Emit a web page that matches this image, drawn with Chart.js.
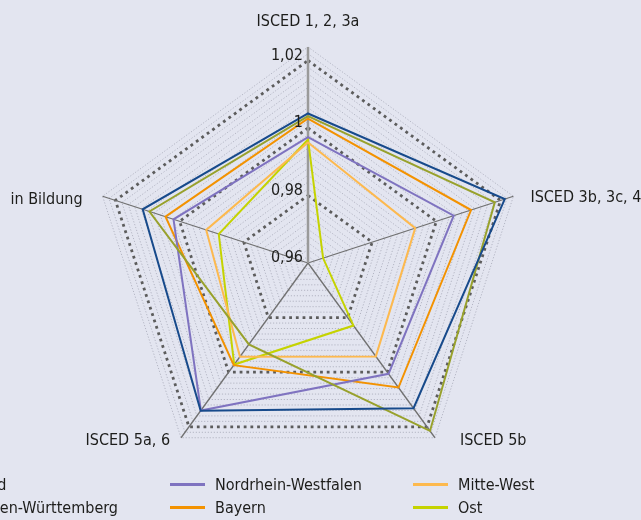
<!DOCTYPE html>
<html lang="de">
<head>
<meta charset="utf-8">
<script src="https://cdn.jsdelivr.net/npm/chart.js@4.4.1/dist/chart.umd.min.js"></script>
<style>
  html, body { margin: 0; padding: 0; background: #e3e5f0; }
  #wrap { position: relative; width: 641px; height: 520px; overflow: hidden; background: #e3e5f0; }
  #chart { position: absolute; left: 0; top: 0; }
  #legend {
    position: absolute; left: -73px; top: 473px;
    display: grid; grid-auto-flow: column;
    grid-template-columns: 243px 243px 243px; grid-template-rows: 23px 23px;
    font: 16px "DejaVu Sans Condensed", "DejaVu Sans", sans-serif; color: #1d1d1b;
  }
  .item { display: flex; align-items: center; white-space: nowrap; }
  .swatch { width: 35px; height: 3px; margin-right: 10px; }
</style>
</head>
<body>
<div id="wrap">
  <canvas id="chart" width="641" height="520"></canvas>
  <div id="legend"></div>
</div>
<script>
const categories = ["ISCED 1, 2, 3a", "ISCED 3b, 3c, 4", "ISCED 5b", "ISCED 5a, 6", "in Bildung"];

const nord = [1.0043, 1.0213, 1.0132, 1.0141, 1.0115];
const badenWuerttemberg = [1.0035, 1.0182, 1.0215, 0.9898, 1.0094];
const nordrheinWestfalen = [0.9973, 1.0054, 1.0006, 1.014, 1.0019];
const bayern = [1.0028, 1.0108, 1.0056, 0.9974, 1.0044];
const mitteWest = [0.9957, 0.9934, 0.9942, 0.9943, 0.9917];
const ost = [0.9966, 0.9647, 0.9829, 0.9972, 0.9878];

const majorTicks = [0.96, 0.98, 1, 1.02];
const tickLabels = ["0,96", "0,98", "1", "1,02"];

const FONT = '16px "DejaVu Sans Condensed", "DejaVu Sans", sans-serif';

function isMajor(v) {
  return majorTicks.some((m) => Math.abs(m - v) < 1e-6);
}

// align, dx, dy relative to the end of each axis
const labelPlace = [
  ["center", 0, -25],
  ["left", 17, 2],
  ["left", 25, 3],
  ["right", -11, 3],
  ["right", -20, 4],
];

const labelPlugin = {
  id: "radarLabels",
  afterDraw(chart) {
    const s = chart.scales.r;
    const ctx = chart.ctx;
    ctx.save();
    ctx.font = FONT;
    ctx.fillStyle = "#1d1d1b";
    ctx.textBaseline = "middle";
    ctx.textAlign = "right";
    majorTicks.forEach((v, i) => {
      const r = s.getDistanceFromCenterForValue(v);
      ctx.fillText(tickLabels[i], s.xCenter - 5, s.yCenter - r - 5);
    });
    categories.forEach((c, i) => {
      const p = s.getPointPosition(i, s.drawingArea);
      const [align, dx, dy] = labelPlace[i];
      ctx.textAlign = align;
      ctx.fillText(c, p.x + dx, p.y + dy);
    });
    ctx.restore();
  },
};

function series(label, data, color) {
  return { label: label, data: data, borderColor: color, backgroundColor: color, borderWidth: 2, pointRadius: 0, fill: false };
}

const chart = new Chart(document.getElementById("chart"), {
  type: "radar",
  data: {
    labels: categories,
    datasets: [
      series("Nord", nord, "#174a8b"),
      series("Baden-Württemberg", badenWuerttemberg, "#98a12c"),
      series("Nordrhein-Westfalen", nordrheinWestfalen, "#7f73c0"),
      series("Bayern", bayern, "#f39200"),
      series("Mitte-West", mitteWest, "#fdb94e"),
      series("Ost", ost, "#c5d300"),
    ],
  },
  options: {
    responsive: false,
    animation: false,
    layout: { padding: { top: 47, left: 92, right: 117, bottom: 41 } },
    plugins: { legend: { display: false }, tooltip: { enabled: false } },
    elements: { line: { tension: 0, borderJoinStyle: "miter" } },
    scales: {
      r: {
        min: 0.96,
        max: 1.024,
        ticks: { count: 33, display: false },
        pointLabels: { display: false },
        grid: {
          color: (ctx) => (isMajor(ctx.tick.value) ? "#5c5c5c" : "#b3b5c3"),
          lineWidth: (ctx) => (isMajor(ctx.tick.value) ? 2.8 : 1),
        },
        border: {
          dash: (ctx) => (isMajor(ctx.tick.value) ? [2.8, 3.9] : [1.2, 1.8]),
        },
        angleLines: {
          color: (ctx) => (ctx.index === 0 ? "#9a9a9a" : "#707070"),
          lineWidth: (ctx) => (ctx.index === 0 ? 2.5 : 1.3),
        },
      },
    },
  },
  plugins: [labelPlugin],
});

// legend from the datasets, three columns
const legend = document.getElementById("legend");
chart.data.datasets.forEach((ds) => {
  const item = document.createElement("div");
  item.className = "item";
  const sw = document.createElement("span");
  sw.className = "swatch";
  sw.style.background = ds.borderColor;
  item.appendChild(sw);
  item.appendChild(document.createTextNode(ds.label));
  legend.appendChild(item);
});
</script>
</body>
</html>
